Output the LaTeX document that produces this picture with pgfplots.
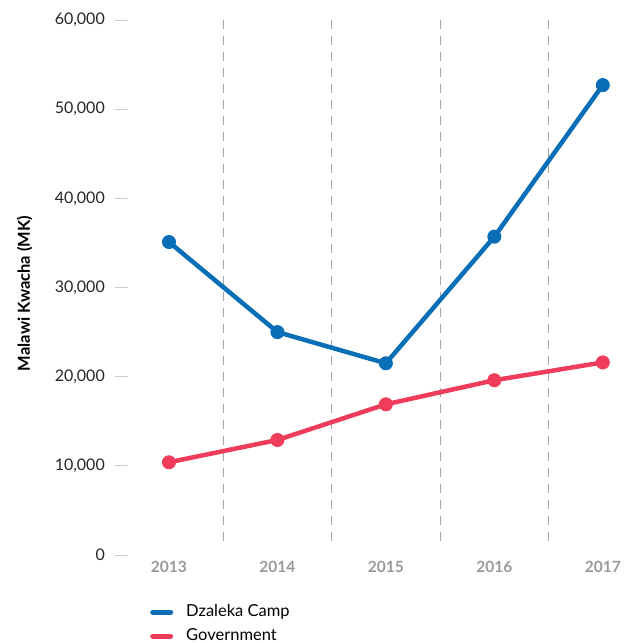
\documentclass[border=0pt]{standalone}
\usepackage{pgfplots}
\pgfplotsset{compat=1.18}
\usepackage{fontspec}
\setmainfont{Lato}
\definecolor{blueC}{RGB}{8,110,182}
\definecolor{redC}{RGB}{238,60,90}
\definecolor{tickgray}{RGB}{153,153,153}
\begin{document}
\begin{tikzpicture}
\path[use as bounding box] (-114.75pt,-88pt) rectangle (516.25pt,555pt);
\begin{axis}[
  at={(0pt,0pt)}, anchor=south west,
  scale only axis, width=516.25pt, height=535pt,
  xmin=-0.5, xmax=4.26, ymin=0, ymax=60000,
  clip=false,
  axis line style={draw=none},
  xtick={0,1,2,3,4},
  xticklabels={2013,2014,2015,2016,2017},
  xtick style={draw=none},
  xticklabel style={font=\fontsize{15.5}{18}\selectfont\bfseries, text=tickgray, anchor=north, inner sep=0pt, yshift=-6pt},
  ytick={0,10000,20000,30000,40000,50000,60000},
  ytick pos=left, ytick align=inside, major tick length=13pt,
  ytick style={draw=black!20, line width=0.9pt},
  scaled y ticks=false,
  yticklabel style={font=\fontsize{16}{19}\selectfont, text=black!85, anchor=east, inner sep=0pt, xshift=-9.75pt,
    /pgf/number format/assume math mode=true, /pgf/number format/1000 sep={,}},
  ylabel={Malawi Kwacha (MK)},
  ylabel style={font=\fontsize{16.5}{19}\selectfont\bfseries, at={(axis description cs:-0.1743,0.489)}, anchor=center},
  legend style={at={(axis description cs:0.0683,-0.0916)}, anchor=north west, draw=none, fill=none, inner sep=0pt,
    font=\fontsize{16.5}{19}\selectfont, row sep=8pt, column sep=13pt,
    nodes={inner sep=0pt, text height=12pt, text depth=4pt}},
  legend cell align=left,
  legend image code/.code={\draw[mark=none, line width=5pt, line cap=round] (2.5pt,0pt) -- (20.5pt,0pt);},
]
\pgfplotsinvokeforeach{0.5,1.5,2.5,3.5}{
  \draw[black!35, line width=0.9pt, dash pattern=on 9pt off 7pt] (axis cs:#1,60000) -- (axis cs:#1,1000);
}
\addplot[blueC, line width=4.5pt, mark=*, mark size=6.5pt, mark options={line width=1pt, fill=blueC}] coordinates {(0,35100)(1,25000)(2,21500)(3,35700)(4,52700)};
\addlegendentry{Dzaleka Camp}
\addplot[redC, line width=4.5pt, mark=*, mark size=6.5pt, mark options={line width=1pt, fill=redC}] coordinates {(0,10400)(1,12900)(2,16900)(3,19600)(4,21600)};
\addlegendentry{Government}
\end{axis}
\end{tikzpicture}
\end{document}
